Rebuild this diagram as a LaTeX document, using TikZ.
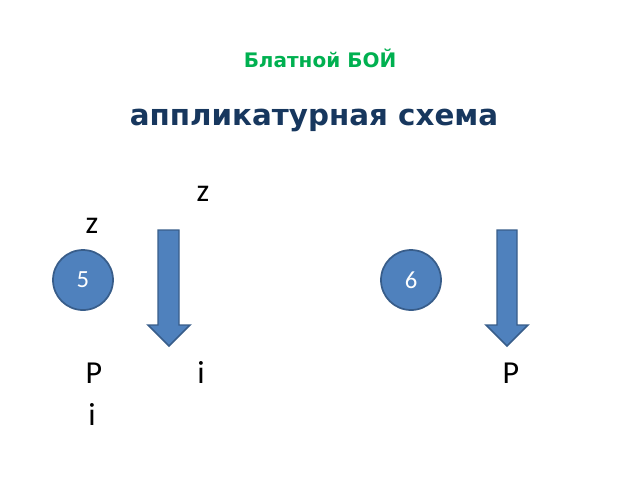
\documentclass[tikz,border=0pt]{standalone}
\usepackage{fontspec}
\setmainfont{Carlito}
\newfontfamily\titlefont{DejaVu Sans}
\definecolor{acc}{HTML}{4F81BD}
\definecolor{accd}{HTML}{385D8A}
\definecolor{tgreen}{HTML}{00B050}
\definecolor{tblue}{HTML}{17375E}
\tikzset{
  lbl/.style={anchor=base, inner sep=0pt, font=\fontsize{24}{28}\selectfont},
  fret/.style={circle, draw=accd, fill=acc, line width=1.3pt, minimum size=45pt, inner sep=0pt, text=white, font=\fontsize{18.5}{22}\selectfont},
  strum/.style={draw=accd, fill=acc, line width=1.1pt, line join=miter},
}
\begin{document}
\begin{tikzpicture}[x=0.75pt,y=-0.75pt]
\useasboundingbox (0,0) rectangle (640,480);
\node[anchor=base, inner sep=0pt, text=tgreen, font=\titlefont\bfseries\fontsize{15}{18}\selectfont] (t1) at (320,67) {Блатной БОЙ};
\node[anchor=base, inner sep=0pt, text=tblue, font=\titlefont\bfseries\fontsize{22}{26}\selectfont] (t2) at (314,125) {аппликатурная схема};
\node[fret] (c5) at (83,280) {5};
\node[fret] (c6) at (411,280) {6};
\draw[strum] (158,230) -- (179,230) -- (179,325) -- (190,325) -- (169,346) -- (148,325) -- (158,325) -- cycle;
\draw[strum] (497,230) -- (517,230) -- (517,325) -- (528,325) -- (507,346) -- (486,325) -- (497,325) -- cycle;
\node[lbl] (z1) at (203,201) {z};
\node[lbl] (z2) at (92,233) {z};
\node[lbl] (p1) at (94,383) {P};
\node[lbl] (i1) at (201,383) {i};
\node[lbl] (i2) at (92,425) {i};
\node[lbl] (p2) at (511,383) {P};
\end{tikzpicture}
\end{document}
